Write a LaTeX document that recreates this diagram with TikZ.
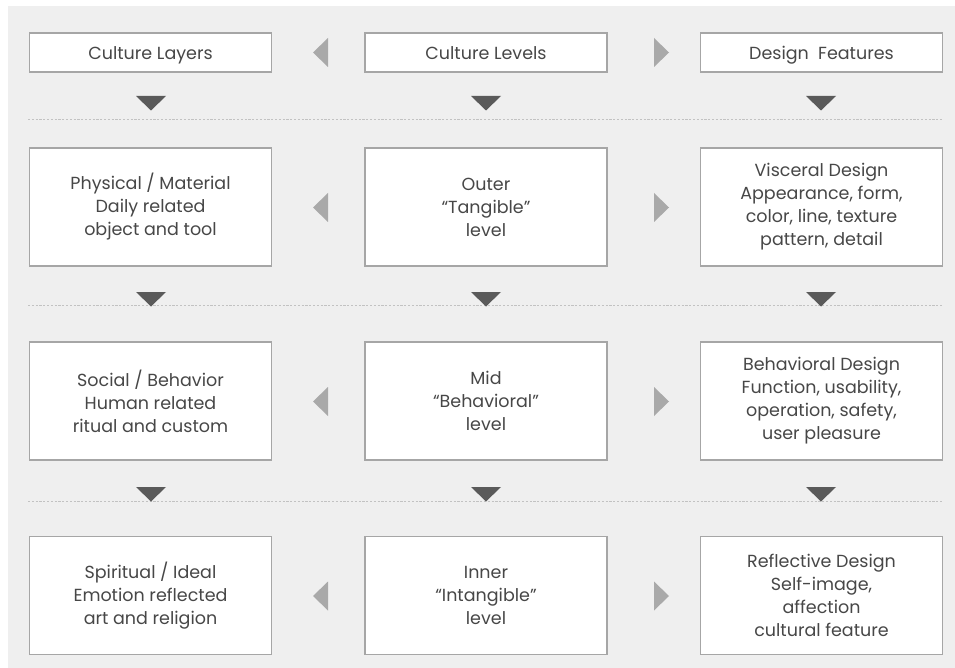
\documentclass[tikz,border=0pt]{standalone}
\usepackage{fontspec}
\setmainfont{Poppins}
\definecolor{panel}{HTML}{EFEFEF}
\definecolor{boxline}{HTML}{A6A6A6}
\definecolor{txt}{HTML}{474747}
\definecolor{darktri}{HTML}{5A5A5A}
\definecolor{lighttri}{HTML}{A9A9A9}
\definecolor{dots}{HTML}{C2C2C2}
\begin{document}
\begin{tikzpicture}[x=1pt,y=-1pt,
  cell/.style={draw=boxline, line width=1.1pt, fill=white, text=txt,
    minimum width=242pt, inner sep=0pt, align=center,
    font=\fontsize{17.5}{23}\selectfont},
  headcell/.style={cell, minimum height=39pt, text height=17pt, text depth=3pt},
  bodycell/.style={cell, minimum height=118pt},
  downtri/.style={fill=darktri},
  sidetri/.style={fill=lighttri},
  sep/.style={draw=dots, line width=0.9pt, dash pattern=on 2.2pt off 1.6pt}]
  % page and grey panel
  \useasboundingbox (0,0) rectangle (955,668);
  \fill[white] (0,0) rectangle (955,668);
  \fill[panel] (8,6) rectangle (955,668);

  % header row
  \node[headcell] (h1) at (150.5,52.5) {Culture Layers};
  \node[headcell] (h2) at (486,52.5) {Culture Levels};
  \node[headcell] (h3) at (821.5,52.5) {Design\ \ Features};

  % body rows
  \node[bodycell] (a1) at (150.5,207) {Physical / Material\\Daily related\\object and tool};
  \node[bodycell] (a2) at (486,207) {Outer\\``Tangible''\\level};
  \node[bodycell] (a3) at (821.5,207) {Visceral Design\\Appearance, form,\\color, line, texture\\pattern, detail};

  \node[bodycell] (b1) at (150.5,401) {Social / Behavior\\Human related\\ritual and custom};
  \node[bodycell] (b2) at (486,401) {Mid\\``Behavioral''\\level};
  \node[bodycell] (b3) at (821.5,401) {Behavioral Design\\Function, usability,\\operation, safety,\\user pleasure};

  \node[bodycell] (c1) at (150.5,595.5) {Spiritual / Ideal\\Emotion reflected\\art and religion};
  \node[bodycell] (c2) at (486,595.5) {Inner\\``Intangible''\\level};
  \node[bodycell] (c3) at (821.5,595.5) {Reflective Design\\Self-image,\\affection\\cultural feature};

  % dotted separators between the rows
  \foreach \y in {119,305,501}
    \draw[sep] (28,\y) -- (943,\y);

  % downward markers under each column
  \foreach \y in {96,292,487}
    \foreach \x in {151,486,821}
      \fill[downtri] (\x-15,\y) -- (\x+15,\y) -- (\x,\y+14.5) -- cycle;

  % side markers pointing outward from the middle column
  \foreach \y in {52.5,207.5,401.5,596} {
    \fill[sidetri] (328,\y-14.5) -- (328,\y+14.5) -- (313,\y) -- cycle;
    \fill[sidetri] (654,\y-14.5) -- (654,\y+14.5) -- (669,\y) -- cycle;
  }
\end{tikzpicture}
\end{document}
